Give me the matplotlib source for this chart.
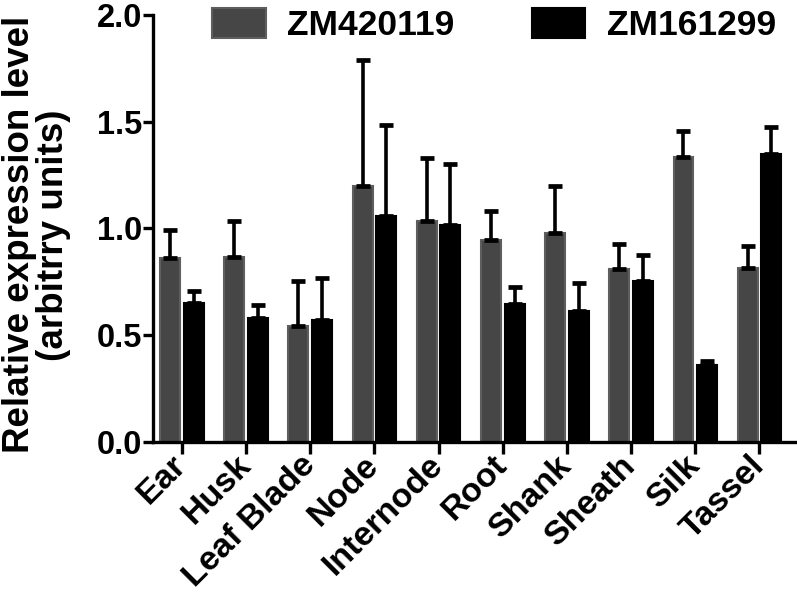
import numpy as np
import matplotlib.pyplot as plt

plt.rcParams['font.family'] = ['Liberation Sans', 'DejaVu Sans']
plt.rcParams['font.weight'] = 'bold'

tissues = ["Ear", "Husk", "Leaf Blade", "Node", "Internode",
           "Root", "Shank", "Sheath", "Silk", "Tassel"]
zm420119 = [0.86, 0.864, 0.544, 1.197, 1.033, 0.944, 0.978, 0.81, 1.335, 0.814]
zm420119_err = [0.134, 0.169, 0.212, 0.593, 0.297, 0.136, 0.219, 0.117, 0.12, 0.105]
zm161299 = [0.65, 0.58, 0.572, 1.056, 1.017, 0.646, 0.611, 0.755, 0.358, 1.35]
zm161299_err = [0.059, 0.062, 0.195, 0.427, 0.286, 0.082, 0.133, 0.12, 0.022, 0.124]

x = np.arange(len(tissues))
w = 0.31
off = 0.184

fig = plt.figure(figsize=(7.97, 5.98), dpi=100)
ax = fig.add_axes([0.192, 0.261, 0.806, 0.714])

err_kw = dict(ecolor="black", elinewidth=2.6, capsize=5, capthick=3.4)
ax.bar(x - off, zm420119, w, color="#464646", edgecolor="#5e5e5e", linewidth=1.5,
       yerr=[np.zeros(len(x)), zm420119_err], error_kw=err_kw, label="ZM420119")
ax.bar(x + off, zm161299, w, color="black", edgecolor="black", linewidth=1.5,
       yerr=[np.zeros(len(x)), zm161299_err], error_kw=err_kw, label="ZM161299")

ax.set_xlim(-0.45, 9.56)
ax.set_ylim(0, 2.0)
ax.set_yticks([0, 0.5, 1.0, 1.5, 2.0])
ax.set_yticklabels(["0.0", "0.5", "1.0", "1.5", "2.0"])
ax.set_xticks(x)
ax.set_xticklabels(tissues, rotation=45, ha="right", va="center",
                   rotation_mode="anchor")

for s in ["top", "right"]:
    ax.spines[s].set_visible(False)
for s in ["left", "bottom"]:
    ax.spines[s].set_linewidth(2.4)
ax.tick_params(axis="y", width=2.4, length=7, labelsize=23.5, pad=1)
ax.tick_params(axis="x", width=2.4, length=8.5, labelsize=24.5, pad=5)

ax.set_ylabel("Relative expression level\n(arbitrry units)", fontsize=26.5,
              fontweight="bold", linespacing=0.95)
ax.yaxis.set_label_coords(-0.128, 0.485)

fig.legend(loc="center", bbox_to_anchor=(0.62, 0.958), ncol=2, frameon=False,
           fontsize=25.5, handlelength=1.5, handleheight=0.95, handletextpad=0.6,
           columnspacing=2.2, borderpad=0, borderaxespad=0)

fig.savefig("out.png", dpi=100)
